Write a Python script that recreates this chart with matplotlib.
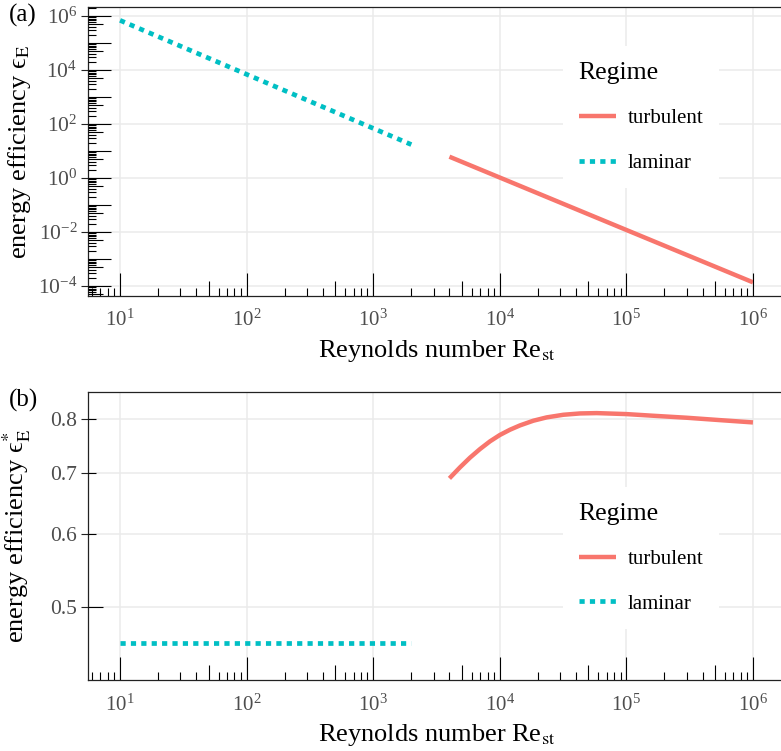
import matplotlib
matplotlib.use("Agg")
import matplotlib.pyplot as plt
from matplotlib.ticker import FixedLocator, NullLocator, LogFormatterSciNotation, FormatStrFormatter

plt.rcParams['font.family'] = ['Liberation Serif', 'DejaVu Serif']
plt.rcParams['mathtext.fontset'] = 'stix'

# (a) energy efficiency against Reynolds number
re_lam = [10, 100, 1000, 2000]
eff_lam = [6.9e5, 6.9e3, 69, 17.3]
re_turb = [4000, 1e4, 1e5, 1e6]
eff_turb = [6.15, 1.04, 0.0119, 1.37e-4]

# (b) normalised energy efficiency
re_lam_n = [10, 2000]
effn_lam = [0.457, 0.457]
re_turb_n = [4000, 4850, 5815, 6977, 8368, 1e4, 12040, 14440, 18400, 23460,
             31760, 43010, 58240, 1e5, 163200, 299200, 548700, 1e6]
effn_turb = [0.690, 0.7094, 0.7268, 0.7427, 0.7572, 0.7693, 0.7796, 0.7881,
             0.7974, 0.8041, 0.8094, 0.8121, 0.8128, 0.8108, 0.8074, 0.8034,
             0.7986, 0.7940]

x_breaks = [1e1, 1e2, 1e3, 1e4, 1e5, 1e6]
ya_breaks = [1e-4, 1e-2, 1e0, 1e2, 1e4, 1e6]
yb_breaks = [0.5, 0.6, 0.7, 0.8]

TURB = '#F8766D'
LAM = '#00BFC4'
GRID = '#EBEBEB'
TXT = '#4D4D4D'

W, H = 781, 751
fig = plt.figure(figsize=(W / 100, H / 100), dpi=100)
ax_a = fig.add_axes([88.4 / W, 1 - 296 / H, 696.2 / W, 288.7 / H])
ax_b = fig.add_axes([88.4 / W, 1 - 680.3 / H, 696.2 / W, 288.3 / H])


def logticks(ax, side):
    # annotation_logticks style: long at 10^k, mid at 5*10^k, short otherwise
    bb = ax.get_position()
    wpx = bb.width * W
    hpx = bb.height * H
    for k in range(-6, 8):
        for m in range(1, 10):
            v = m * 10.0 ** k
            L = 23 if m == 1 else (15 if m == 5 else 8)
            if side == 'bottom':
                ax.vlines(v, 0, L / hpx, transform=ax.get_xaxis_transform(),
                          color='black', lw=0.8, zorder=3)
            else:
                ax.hlines(v, 0, L / wpx, transform=ax.get_yaxis_transform(),
                          color='black', lw=0.8, zorder=3)


def style(ax):
    ax.set_xscale('log')
    ax.set_yscale('log')
    ax.set_xlim(10 ** 0.75, 10 ** 6.25)
    ax.xaxis.set_major_locator(FixedLocator(x_breaks))
    ax.xaxis.set_minor_locator(NullLocator())
    ax.xaxis.set_major_formatter(LogFormatterSciNotation())
    ax.yaxis.set_minor_locator(NullLocator())
    ax.grid(True, which='major', color=GRID, lw=1.1)
    ax.set_axisbelow(True)
    for s in ax.spines.values():
        s.set_color('#222222')
        s.set_linewidth(0.9)
    ax.tick_params(axis='x', length=0, pad=10, labelsize=15, labelcolor=TXT)
    ax.tick_params(axis='y', length=5, width=0.8, color='#222222', pad=3,
                   labelsize=15.5, labelcolor=TXT)
    ax.set_xlabel(r'Reynolds number Re$_{\mathrm{st}}$', fontsize=19)
    ax.xaxis.set_label_coords(0.5, -0.145)
    logticks(ax, 'bottom')
    logticks(ax, 'left')


# panel (a)
style(ax_a)
ax_a.set_ylim(10 ** -4.37, 10 ** 6.322)
ax_a.yaxis.set_major_locator(FixedLocator(ya_breaks))
ax_a.yaxis.set_major_formatter(LogFormatterSciNotation())
ax_a.plot(re_turb, eff_turb, color=TURB, lw=3.2, solid_capstyle='butt', label='turbulent')
ax_a.plot(re_lam, eff_lam, color=LAM, lw=3.4, dashes=(1.1, 1.1),
          dash_capstyle='butt', label='laminar')
ax_a.set_ylabel('energy efficiency \u03f5$_{\\mathrm{E}}$', fontsize=19)
ax_a.yaxis.set_label_coords(-0.080, 0.5)

# panel (b)
style(ax_b)
ax_b.set_ylim(0.4157, 0.857)
ax_b.yaxis.set_major_locator(FixedLocator(yb_breaks))
ax_b.yaxis.set_major_formatter(FormatStrFormatter('%.1f'))
ax_b.plot(re_turb_n, effn_turb, color=TURB, lw=3.2, solid_capstyle='butt',
          solid_joinstyle='round', label='turbulent')
ax_b.plot(re_lam_n, effn_lam, color=LAM, lw=3.4, dashes=(1.1, 1.1),
          dash_capstyle='butt', label='laminar')
ax_b.set_ylabel('energy efficiency \u03f5$^{*}_{\\mathrm{E}}$', fontsize=19)
ax_b.yaxis.set_label_coords(-0.080, 0.5)

for ax, top in [(ax_a, 46), (ax_b, 487)]:
    leg = ax.legend(title='Regime', loc='upper left',
                    bbox_to_anchor=(563 / W, 1 - top / H), bbox_transform=fig.transFigure,
                    fancybox=False, facecolor='white', edgecolor='none', framealpha=1,
                    fontsize=15, title_fontsize=18.5, handlelength=1.8,
                    handletextpad=0.55, labelspacing=1.2, borderpad=0.75,
                    borderaxespad=0, alignment='left')
    leg.get_frame().set_linewidth(0)

fig.text(9 / W, 1 - 15 / H, '(a)', fontsize=18, va='center', ha='left')
fig.text(9 / W, 1 - 400 / H, '(b)', fontsize=18, va='center', ha='left')

fig.savefig('out.png', dpi=100)
